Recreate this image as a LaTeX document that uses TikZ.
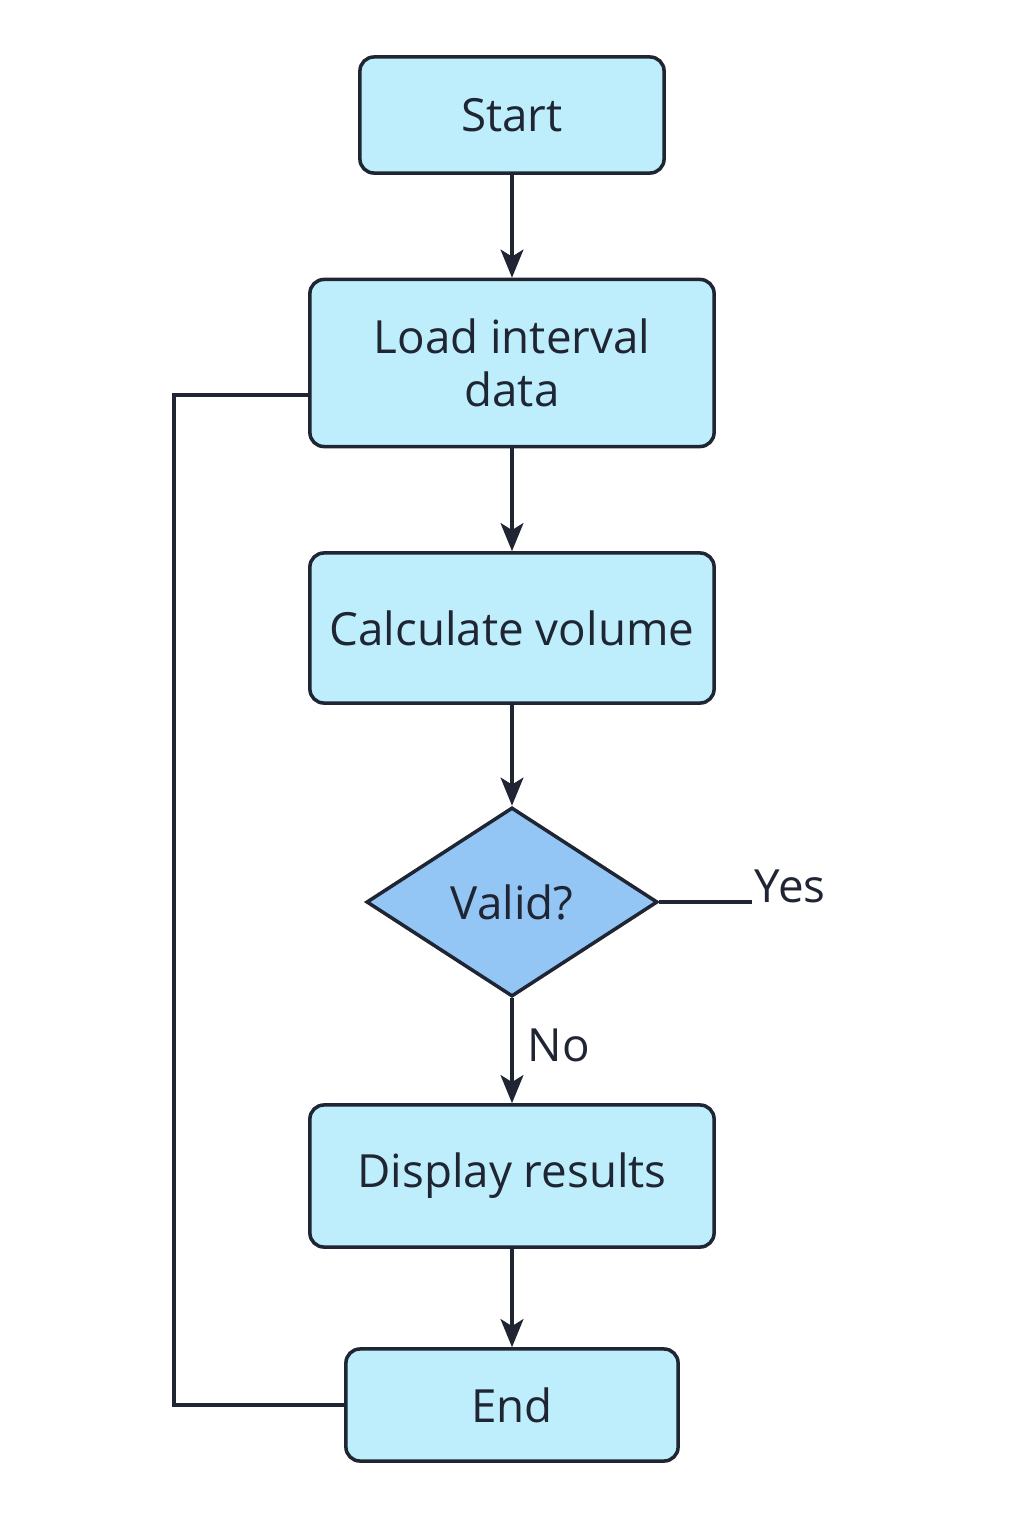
\documentclass[tikz,border=0pt]{standalone}
\usepackage{fontspec}
\setmainfont{Open Sans}
\usetikzlibrary{shapes.geometric, arrows.meta, positioning}
\definecolor{boxcyan}{RGB}{190, 238, 251}
\definecolor{diablue}{RGB}{147, 197, 245}
\definecolor{inkdark}{RGB}{31, 37, 51}

\begin{document}
\begin{tikzpicture}[x=0.01cm, y=-0.01cm,
    every node/.style={text=inkdark, font=\fontsize{13}{15.2}\selectfont},
    procbox/.style={draw=inkdark, fill=boxcyan, line width=1pt, rounded corners=4pt, align=center, inner sep=0pt},
    decision/.style={diamond, draw=inkdark, fill=diablue, line width=1pt, inner sep=0pt, minimum width=2.91cm, minimum height=1.89cm},
    flow/.style={draw=inkdark, line width=1pt, -{Stealth[length=8pt, width=6.5pt, inset=2pt]}},
    plain/.style={draw=inkdark, line width=1pt}]
  \useasboundingbox (0,0) rectangle (1024,1536);

  % boxes
  \node[procbox, minimum width=3.04cm, minimum height=1.16cm] (start) at (512,115) {Start};
  \node[procbox, minimum width=4.04cm, minimum height=1.67cm] (load) at (512,363) {Load interval\\data};
  \node[procbox, minimum width=4.04cm, minimum height=1.50cm] (calc) at (512,628) {Calculate volume};
  \node[decision] (valid) at (512,902) {Valid?};
  \node[procbox, minimum width=4.04cm, minimum height=1.42cm] (display) at (512,1176) {Display results};
  \node[procbox, minimum width=3.32cm, minimum height=1.12cm] (end) at (512,1405) {End};

  % arrows
  \draw[flow] (start) -- (load);
  \draw[flow] (load) -- (calc);
  \draw[flow] (calc) -- (valid);
  \draw[flow] (valid) -- (display);
  \draw[flow] (display) -- (end);

  % yes branch
  \coordinate (yesend) at (752,902);
  \draw[plain] (valid.east) -- (yesend);
  \node[anchor=base west, inner sep=0pt] (yeslbl) at (754,902) {Yes};
  \node[anchor=base west, inner sep=0pt] (nolbl) at (527,1061) {No};

  % loop back
  \draw[plain] ([yshift=-0.32cm]load.west) -- ++(-134,0) |- (end.west);
\end{tikzpicture}
\end{document}
